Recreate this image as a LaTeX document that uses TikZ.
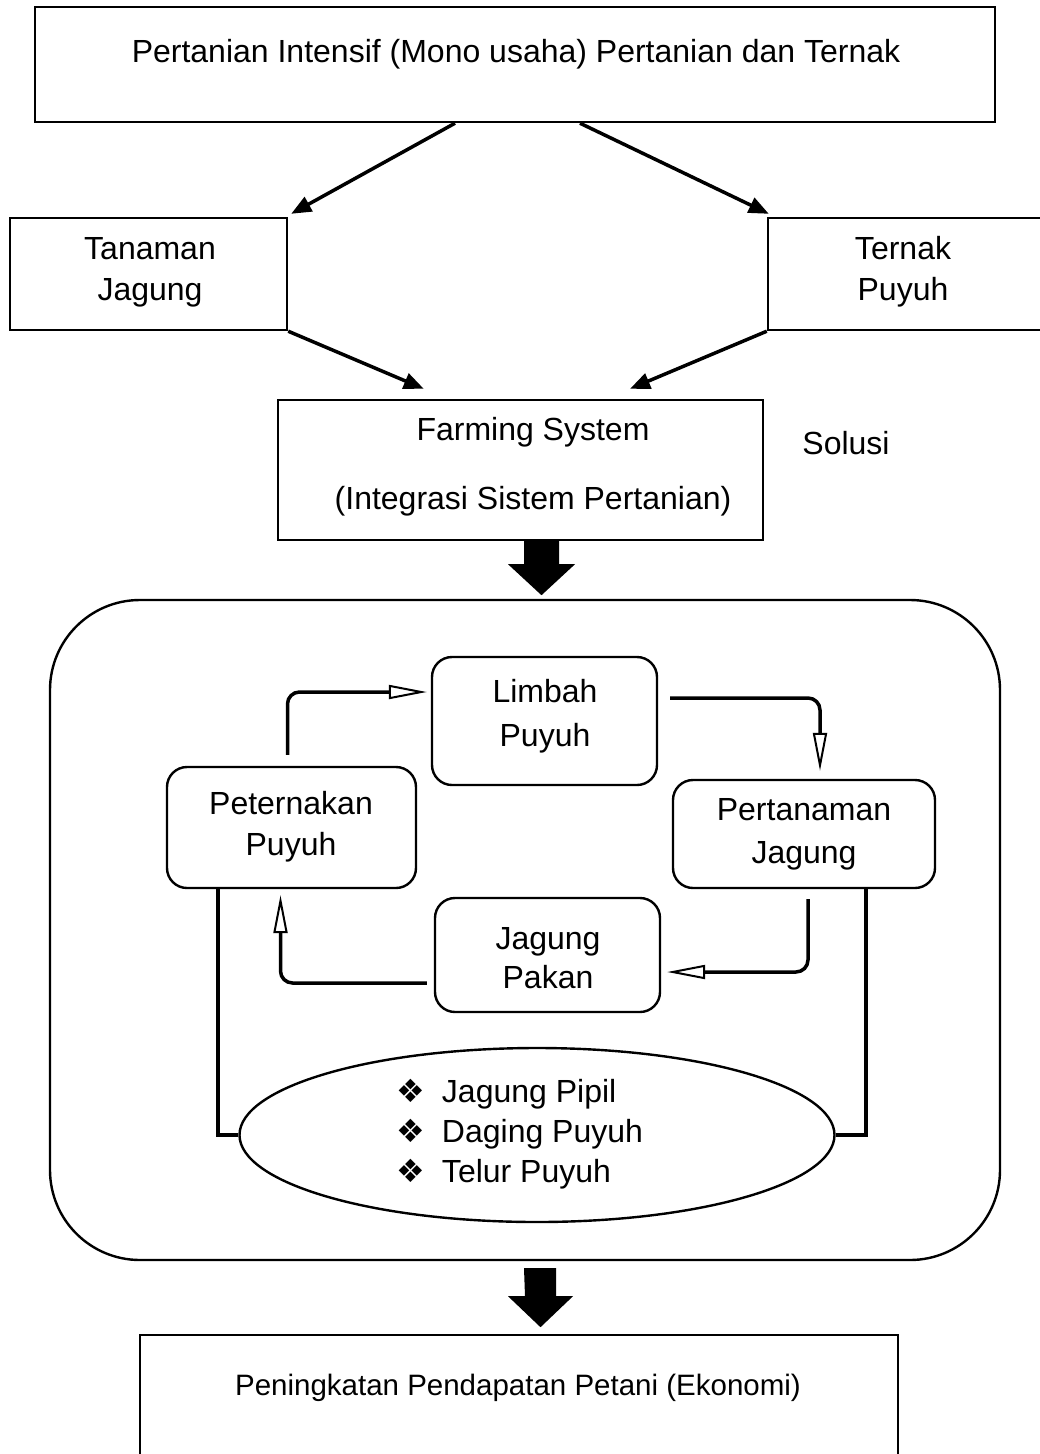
\documentclass[tikz,border=0pt]{standalone}
\usepackage{fontspec}
\setmainfont{Liberation Sans}
\newfontfamily\symfont{DejaVu Sans}
\usetikzlibrary{arrows.meta,shapes.geometric,calc}
\newcommand\itemmark{\makebox[45pt][l]{\symfont ❖}}

\begin{document}
\begin{tikzpicture}[x=1pt,y=-1pt,
  frame/.style={draw, line width=2.4pt, inner sep=0pt},
  rbox/.style={frame, rounded corners=20pt},
  lbl/.style={font=\fontsize{32}{41}\selectfont, align=center, inner sep=0pt},
  feed/.style={line width=3.5pt, -{Triangle[length=20pt,width=16pt]}},
  flow/.style={line width=3.5pt, rounded corners=12pt,
    -{Triangle[open,length=38pt,width=14pt,line width=2pt]}},
  link/.style={line width=3.5pt}]
\useasboundingbox (0,0) rectangle (1039,1454);

% upper part
\node[frame, minimum width=960, minimum height=115] (top) at (515,64.5) {};
\node[lbl] (toptxt) at (516,54) {Pertanian Intensif (Mono usaha) Pertanian dan Ternak};

\node[frame, minimum width=277, minimum height=112] (tan) at (148.5,274) {};
\node[lbl] (tantxt) at (150,272) {Tanaman\\Jagung};

\node[frame, minimum width=277, minimum height=112] (ter) at (906.5,274) {};
\node[lbl] (tertxt) at (903,272) {Ternak\\Puyuh};

\node[frame, minimum width=485, minimum height=140] (farm) at (520.5,470) {};
\node[lbl] (farmtxt) at (533,467) {Farming System\\[28pt](Integrasi Sistem Pertanian)};
\node[lbl] (sol) at (846,443) {Solusi};

\draw[feed] ($(top.south)+(-60,0)$) -- ($(tan.north east)+(3,-3)$);
\draw[feed] ($(top.south)+(65,0)$) -- ($(ter.north west)+(2,-3)$);
\draw[feed] (tan.south east) -- ($(farm.north west)+(147,-10)$);
\draw[feed] (ter.south west) -- ($(farm.north)+(109.5,-10)$);

% thick arrow into the cycle panel
\coordinate (d1) at ($(farm.south)+(21,0)$);
\fill (d1) ++(-17.5,0) -- ++(35,0) -- ++(0,23) -- ++(16,0) -- ++(-33.5,31)
  -- ++(-33.5,-31) -- ++(16,0) -- cycle;

% cycle panel
\node[frame, rounded corners=90pt, minimum width=950, minimum height=660] (panel) at (525,930) {};

\node[rbox, minimum width=225, minimum height=128] (lim) at (544.5,721) {};
\node[lbl] (limtxt) at (545,716) {Limbah\\[3pt]Puyuh};

\node[rbox, minimum width=249, minimum height=121] (pet) at (291.5,827.5) {};
\node[lbl] (pettxt) at (291,827) {Peternakan\\Puyuh};

\node[rbox, minimum width=262, minimum height=108] (per) at (804,834) {};
\node[lbl] (pertxt) at (804,834) {Pertanaman\\[2pt]Jagung};

\node[rbox, minimum width=225, minimum height=114] (pak) at (547.5,955) {};
\node[lbl] (paktxt) at (548,958) {Jagung\\[-2pt]Pakan};

\node[draw, line width=2.4pt, ellipse, minimum width=595, minimum height=174, inner sep=0pt] (out) at (537,1135) {};
\node[lbl, align=left] (items) at (520,1134) {\itemmark Jagung Pipil\\[-1pt]\itemmark Daging Puyuh\\[-1pt]\itemmark Telur Puyuh};

\draw[flow] ($(pet.north)+(-4,-11)$) |- ($(lim.west)+(-4,-29)$);
\draw[flow] ($(lim.east)+(12,-23)$) -| ($(per.north)+(16,-8)$);
\draw[flow] ($(per.south)+(4,10)$) |- ($(pak.east)+(6,17)$);
\draw[flow] ($(pak.west)+(-7,28)$) -| ($(pet.south)+(-11,6)$);

\draw[link] ($(pet.south west)+(52,0)$) |- (out.west);
\draw[link] ($(per.south east)+(-70,0)$) |- (out.east);

% thick arrow to the result
\coordinate (d2) at ($(panel.south)+(15,7)$);
\fill (d2) ++(-16,0) -- ++(32,0) -- ++(0,28) -- ++(17,0) -- ++(-32.5,31)
  -- ++(-32.5,-31) -- ++(17,0) -- cycle;

\node[frame, minimum width=758, minimum height=140] (res) at (519,1405) {};
\node[lbl, font=\fontsize{29.5}{38}\selectfont] (restxt) at (518,1388) {Peningkatan Pendapatan Petani (Ekonomi)};
\end{tikzpicture}
\end{document}
